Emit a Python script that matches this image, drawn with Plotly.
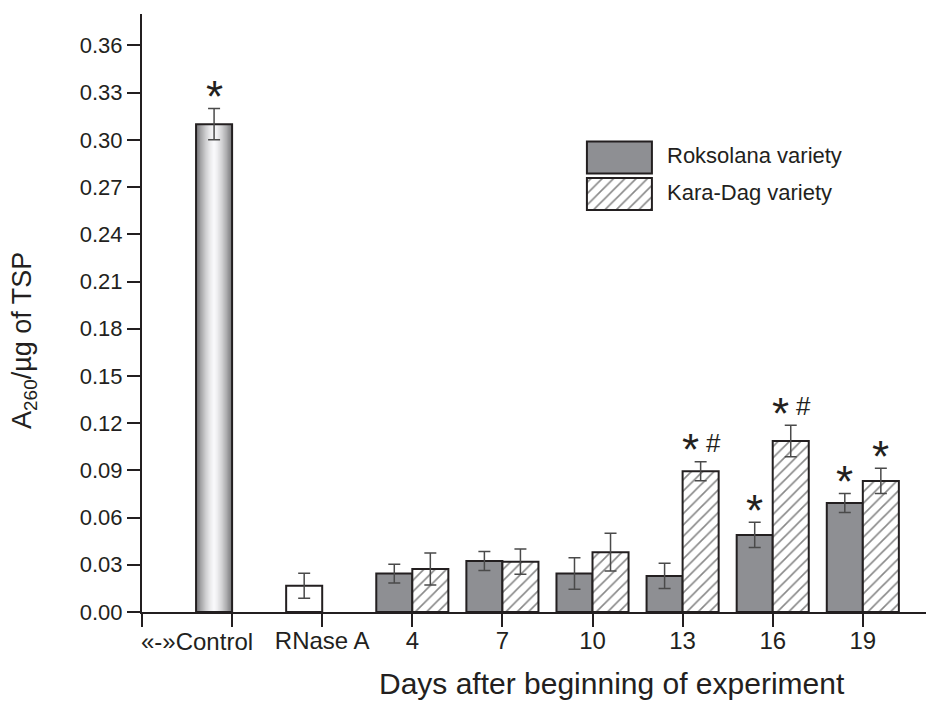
import plotly.graph_objects as go

# ---------------- data ----------------
categories = ["«-»Control", "RNase A", "4", "7", "10", "13", "16", "19"]
control_value = 0.310
control_err = 0.0099
rnase_value = 0.0167
rnase_err = 0.0079
days = ["4", "7", "10", "13", "16", "19"]
roksolana = [0.0244, 0.0324, 0.0244, 0.0229, 0.0490, 0.0693]
roksolana_err = [0.0059, 0.0060, 0.0100, 0.0080, 0.0080, 0.0060]
karadag = [0.0273, 0.0320, 0.0380, 0.0894, 0.1087, 0.0833]
karadag_err = [0.0102, 0.0080, 0.0120, 0.0060, 0.0100, 0.0080]
control_mark = "*"
roksolana_marks = ["", "", "", "", "*", "*"]
karadag_marks = ["", "", "", "*#", "*#", "*"]
y_ticks = [0.00, 0.03, 0.06, 0.09, 0.12, 0.15, 0.18, 0.21, 0.24, 0.27, 0.30, 0.33, 0.36]

# ---------------- styles ----------------
INK = "#231f20"
GRAY = "#8e8f93"
ERR = "#4a4a4a"
BW = 0.4  # bar width in category units
REG = "Liberation Sans, Arial, sans-serif"

pos = {c: i for i, c in enumerate(categories)}
day_x = [pos[d] for d in days]

fig = go.Figure()

# gradient control bar (nested bars, darker at the edges, white in the centre)
n_layers = 14
ctr = -BW / 2
for i in range(n_layers):
    w = BW * (1 - i / n_layers)
    d = w / BW
    g = int(round(250 - 128 * d ** 1.5))
    fig.add_trace(go.Bar(
        x=[pos[categories[0]]], y=[control_value], width=w, offset=ctr - w / 2,
        marker=dict(color=f"rgb({g},{g},{g+2})", line=dict(width=0)),
        showlegend=False, hoverinfo="skip"))
fig.add_trace(go.Bar(
    x=[pos[categories[0]]], y=[control_value], width=BW, offset=-BW,
    marker=dict(color="rgba(0,0,0,0)", line=dict(color=INK, width=2)),
    error_y=dict(type="data", array=[control_err], color=ERR, thickness=1.5, width=6),
    showlegend=False, hoverinfo="skip"))

# RNase A (white bar)
fig.add_trace(go.Bar(
    x=[pos[categories[1]]], y=[rnase_value], width=BW, offset=-BW,
    marker=dict(color="white", line=dict(color=INK, width=2)),
    error_y=dict(type="data", array=[rnase_err], color=ERR, thickness=1.5, width=6),
    showlegend=False, hoverinfo="skip"))

# Roksolana
fig.add_trace(go.Bar(
    x=day_x, y=roksolana, width=BW, offset=-BW, name="Roksolana variety",
    marker=dict(color=GRAY, line=dict(color=INK, width=2)),
    error_y=dict(type="data", array=roksolana_err, color=ERR, thickness=1.5, width=6),
    showlegend=False))

# Kara-Dag (hatched)
hatch = dict(shape="/", fgcolor="#111111", bgcolor="white", size=8, solidity=0.2)
fig.add_trace(go.Bar(
    x=day_x, y=karadag, width=BW, offset=0, name="Kara-Dag variety",
    marker=dict(color="white", line=dict(color=INK, width=2), pattern=hatch),
    error_y=dict(type="data", array=karadag_err, color=ERR, thickness=1.5, width=6),
    showlegend=False))

# legend swatches on an auxiliary axis
fig.add_trace(go.Bar(
    orientation="h", y=[0], x=[1], base=0, width=0.88, xaxis="x2", yaxis="y2",
    marker=dict(color=GRAY, line=dict(color=INK, width=2)), showlegend=False, hoverinfo="skip"))
fig.add_trace(go.Bar(
    orientation="h", y=[1], x=[1], base=0, width=0.88, xaxis="x2", yaxis="y2",
    marker=dict(color="white", line=dict(color=INK, width=2), pattern=hatch),
    showlegend=False, hoverinfo="skip"))

annotations = []

def add_marks(x, top, mark):
    if not mark:
        return
    star = dict(x=x, y=top, xref="x", yref="y", text="*", showarrow=False,
                font=dict(family=REG, size=44, color=INK),
                yanchor="middle", xanchor="center", yshift=12)
    if mark == "*":
        annotations.append(star)
    else:
        star["xshift"] = -10
        annotations.append(star)
        annotations.append(dict(x=x, y=top, xref="x", yref="y", text="#", showarrow=False,
                                font=dict(family=REG, size=26, color=INK),
                                yanchor="middle", xanchor="center", yshift=19, xshift=13))

add_marks(pos[categories[0]] - BW / 2, control_value + control_err, control_mark)
for x, v, e, m in zip(day_x, roksolana, roksolana_err, roksolana_marks):
    add_marks(x - BW / 2, v + e, m)
for x, v, e, m in zip(day_x, karadag, karadag_err, karadag_marks):
    add_marks(x + BW / 2, v + e, m)

# control tick label (shifted left as in the original)
annotations.append(dict(x=-0.39, y=-0.0485, xref="x", yref="paper", text=categories[0],
                        showarrow=False, font=dict(family=REG, size=24, color=INK),
                        xanchor="center", yanchor="middle"))
# x-axis title
annotations.append(dict(x=0.593, y=-0.119, xref="paper", yref="paper",
                        text="Days after beginning of experiment", showarrow=False,
                        font=dict(family=REG, size=30, color=INK),
                        xanchor="center", yanchor="middle"))
# y-axis title
annotations.append(dict(x=-0.149, y=0.455, xref="paper", yref="paper",
                        text="A<sub>260</sub>/µg of TSP", showarrow=False, textangle=-90,
                        font=dict(family=REG, size=27, color=INK),
                        xanchor="center", yanchor="middle"))
# legend texts
annotations.append(dict(x=0.6604, y=0.7634, xref="paper", yref="paper", text="Roksolana variety",
                        showarrow=False, font=dict(family=REG, size=22, color=INK),
                        xanchor="left", yanchor="middle"))
annotations.append(dict(x=0.6604, y=0.7023, xref="paper", yref="paper", text="Kara-Dag variety",
                        showarrow=False, font=dict(family=REG, size=22, color=INK),
                        xanchor="left", yanchor="middle"))

# the page body adds an 8 px margin, so the figure is 8 px smaller and margins shifted
fig.update_layout(
    width=926, height=694,
    margin=dict(l=134, r=0, t=6, b=90),
    paper_bgcolor="white", plot_bgcolor="white",
    barmode="overlay",
    showlegend=False,
    annotations=annotations,
    xaxis=dict(
        range=[-1, 7.79], tickmode="array",
        tickvals=[-1] + list(range(len(categories))),
        ticktext=["", ""] + categories[1:],
        showline=True, linecolor=INK, linewidth=2,
        ticks="outside", ticklen=13, tickwidth=2, tickcolor=INK,
        ticklabelstandoff=-7,
        tickfont=dict(family=REG, size=24, color=INK),
        showgrid=False, zeroline=False),
    yaxis=dict(
        range=[0, 0.38], tickmode="array", tickvals=y_ticks,
        ticktext=[f"{t:.2f}" for t in y_ticks],
        showline=True, linecolor=INK, linewidth=2,
        ticks="outside", ticklen=13, tickwidth=2, tickcolor=INK,
        tickfont=dict(family=REG, size=22, color=INK),
        showgrid=False, zeroline=False),
    xaxis2=dict(domain=[0.5593, 0.6463], anchor="y2", range=[-0.03, 1.03], visible=False),
    yaxis2=dict(domain=[0.6685, 0.7906], anchor="x2", range=[1.5, -0.5], visible=False),
)

fig.write_html("out.html")
